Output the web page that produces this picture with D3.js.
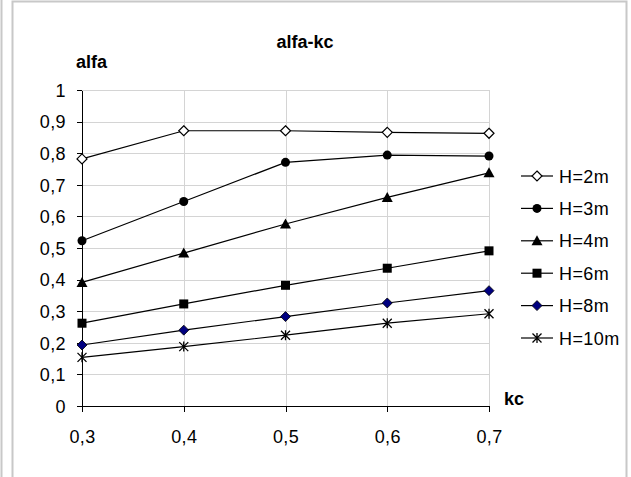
<!DOCTYPE html>
<html lang="en">
  <head>
    <meta charset="utf-8">
    <title>alfa-kc</title>
    <style>
      body {margin: 0; background: #fff;}
      svg {display: block; font-family: "Liberation Sans", Arial, sans-serif;}
      .grid line {stroke: #d4d4d4; shape-rendering: crispEdges;}
      .axis path, .axis line {stroke: #000; shape-rendering: crispEdges;}
      .axis text {font-size: 18px; fill: #000; letter-spacing: 0.4px;}
      path.curve {fill: none; stroke: #000; stroke-width: 1.2;}
      .legend text {font-size: 18px; letter-spacing: 0.4px;}
    </style>
    <script src="https://d3js.org/d3.v7.min.js"></script>
  </head>
  <body>
    <script>
      // data
      var kc = [0.3, 0.4, 0.5, 0.6, 0.7];
      var seriesNames = ["H=2m", "H=3m", "H=4m", "H=6m", "H=8m", "H=10m"];
      var h2 = [0.782, 0.871, 0.871, 0.866, 0.863];
      var h3 = [0.523, 0.647, 0.771, 0.794, 0.791];
      var h4 = [0.391, 0.484, 0.576, 0.660, 0.738];
      var h6 = [0.262, 0.323, 0.382, 0.436, 0.491];
      var h8 = [0.193, 0.240, 0.283, 0.326, 0.365];
      var h10 = [0.154, 0.188, 0.224, 0.262, 0.292];
      var yTicks = [0, 0.1, 0.2, 0.3, 0.4, 0.5, 0.6, 0.7, 0.8, 0.9, 1];

      var allValues = [h2, h3, h4, h6, h8, h10];
      var markers = ["diamondOpen", "circle", "triangle", "square", "diamondNavy", "star"];

      var width = 631, height = 477;
      var plotLeft = 82, plotRight = 489, plotTop = 90, plotBottom = 406;

      var svg = d3.select("body").append("svg")
        .attr("width", width)
        .attr("height", height);

      // frames round the chart
      svg.append("line")
        .attr("x1", 1.5).attr("y1", 0).attr("x2", 1.5).attr("y2", height)
        .attr("stroke", "#c8c8c8").attr("stroke-width", 2);
      svg.append("path")
        .attr("d", "M12.5," + height + "V1.5H626.5V" + height)
        .attr("fill", "none").attr("stroke", "#c8c8c8").attr("stroke-width", 2);

      var x = d3.scaleLinear().domain([0.3, 0.7]).range([plotLeft, plotRight]);
      var y = d3.scaleLinear().domain([0, 1]).range([plotBottom, plotTop]);
      var fmt = function(d) { return d3.format("~g")(+d.toFixed(1)).replace(".", ","); };

      // gridlines
      var grid = svg.append("g").attr("class", "grid");
      grid.selectAll("line.h").data(yTicks.slice(1)).enter().append("line")
        .attr("x1", plotLeft).attr("x2", plotRight)
        .attr("y1", function(d) { return Math.round(y(d)) + 0.5; })
        .attr("y2", function(d) { return Math.round(y(d)) + 0.5; });
      grid.selectAll("line.v").data(kc.slice(1)).enter().append("line")
        .attr("x1", function(d) { return Math.round(x(d)) + 0.5; })
        .attr("x2", function(d) { return Math.round(x(d)) + 0.5; })
        .attr("y1", plotTop).attr("y2", plotBottom);

      // axes
      var yAxis = svg.append("g").attr("class", "axis")
        .attr("transform", "translate(" + plotLeft + ",0)")
        .call(d3.axisLeft(y).tickValues(yTicks).tickSize(5).tickSizeOuter(0).tickPadding(11).tickFormat(fmt));
      yAxis.selectAll("text").attr("dy", "0.35em");

      var xAxis = svg.append("g").attr("class", "axis")
        .attr("transform", "translate(0," + plotBottom + ")")
        .call(d3.axisBottom(x).tickValues(kc).tickSize(6).tickSizeOuter(0).tickPadding(18).tickFormat(fmt));

      // titles
      svg.append("text")
        .attr("x", 305).attr("y", 48)
        .attr("text-anchor", "middle")
        .attr("font-weight", "bold").attr("font-size", "18px")
        .text("alfa-kc");
      svg.append("text")
        .attr("x", 76).attr("y", 68)
        .attr("font-weight", "bold").attr("font-size", "18px")
        .text("alfa");
      svg.append("text")
        .attr("x", 504).attr("y", 405)
        .attr("font-weight", "bold").attr("font-size", "18px")
        .text("kc");

      function drawMarker(g, type) {
        if (type === "diamondOpen") {
          g.append("path").attr("d", "M0,-5L5,0L0,5L-5,0Z")
            .attr("fill", "#fff").attr("stroke", "#000").attr("stroke-width", 1.2);
        } else if (type === "circle") {
          g.append("circle").attr("r", 4.5).attr("fill", "#000");
        } else if (type === "triangle") {
          g.append("path").attr("d", "M0,-5.5L5.5,4.5L-5.5,4.5Z").attr("fill", "#000");
        } else if (type === "square") {
          g.append("rect").attr("x", -4.5).attr("y", -4.5).attr("width", 9).attr("height", 9).attr("fill", "#000");
        } else if (type === "diamondNavy") {
          g.append("path").attr("d", "M0,-5L5,0L0,5L-5,0Z")
            .attr("fill", "#000080").attr("stroke", "#000").attr("stroke-width", 0.8);
        } else {
          g.append("path").attr("d", "M-4.5,-4.5L4.5,4.5M-4.5,4.5L4.5,-4.5M0,-5V5")
            .attr("fill", "none").attr("stroke", "#000").attr("stroke-width", 1.3);
        }
      }

      var line = d3.line()
        .x(function(d, i) { return x(kc[i]); })
        .y(function(d) { return y(d); });

      allValues.forEach(function(vals, s) {
        var g = svg.append("g").attr("class", "series");
        g.append("path").attr("class", "curve").attr("d", line(vals));
        vals.forEach(function(v, i) {
          var m = g.append("g").attr("transform", "translate(" + x(kc[i]) + "," + y(v) + ")");
          drawMarker(m, markers[s]);
        });
      });

      // legend
      var legend = svg.append("g").attr("class", "legend");
      seriesNames.forEach(function(name, s) {
        var cy = 176 + s * 32.4;
        var row = legend.append("g").attr("transform", "translate(0," + cy + ")");
        row.append("line").attr("x1", 521).attr("x2", 553).attr("y1", 0).attr("y2", 0)
          .attr("stroke", "#000").attr("stroke-width", 1.2);
        drawMarker(row.append("g").attr("transform", "translate(537,0)"), markers[s]);
        row.append("text").attr("x", 559).attr("y", 6.5).text(name);
      });
    </script>
  </body>
</html>
